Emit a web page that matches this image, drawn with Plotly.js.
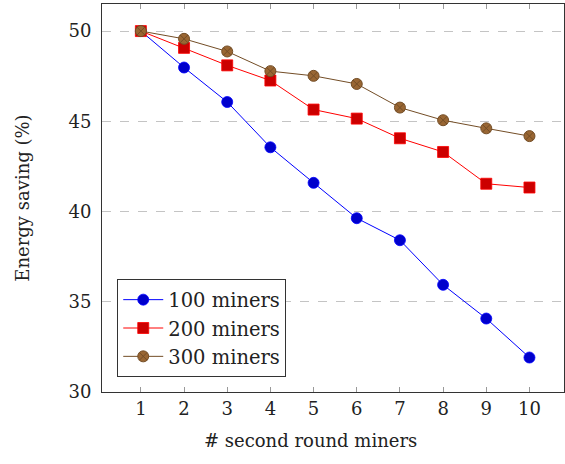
<!DOCTYPE html>
<html><head><meta charset="utf-8">
<script src="https://cdn.plot.ly/plotly-3.0.1.min.js"></script>
<style>html,body{margin:0;padding:0;background:#fff}#chart{width:565px;height:464px}</style>
</head><body><div id="chart"></div>
<script>
const xVals = [1,2,3,4,5,6,7,8,9,10];
const miners100 = [50, 47.98, 46.07, 43.56, 41.59, 39.63, 38.41, 35.94, 34.07, 31.91];
const miners200 = [50, 49.07, 48.10, 47.26, 45.65, 45.15, 44.06, 43.30, 41.54, 41.33];
const miners300 = [50, 49.57, 48.87, 47.78, 47.52, 47.07, 45.76, 45.06, 44.61, 44.18];
const seriesNames = ['100 miners','200 miners','300 miners'];
const yTicks = [30,35,40,45,50];
const xTitle = '# second round miners';
const yTitle = 'Energy saving (%)';

const font = 'DejaVu Serif, Liberation Serif, serif';
const traces = [
  {x:xVals, y:miners100, name:seriesNames[0], mode:'lines+markers',
   line:{color:'rgb(0,0,255)', width:1},
   marker:{symbol:'circle', size:11, color:'rgb(0,0,204)', line:{color:'rgb(0,0,255)', width:0.8}}},
  {x:xVals, y:miners200, name:seriesNames[1], mode:'lines+markers',
   line:{color:'rgb(255,0,0)', width:1},
   marker:{symbol:'square', size:11, color:'rgb(204,0,0)', line:{color:'rgb(255,0,0)', width:0.8}}},
  {x:xVals, y:miners300, name:seriesNames[2], mode:'lines+markers',
   line:{color:'rgb(115,77,38)', width:1},
   marker:{symbol:'circle-x', size:11, color:'rgb(153,102,51)', line:{color:'rgb(115,77,38)', width:1}}}
];
const layout = {
  width:565, height:464,
  margin:{l:102, r:1, t:4, b:72},
  paper_bgcolor:'#fff', plot_bgcolor:'#fff',
  font:{family:font, size:18, color:'#222'},
  showlegend:true,
  legend:{x:0.033, y:0.29, xanchor:'left', yanchor:'top',
    bgcolor:'#fff', bordercolor:'#333', borderwidth:1,
    font:{family:font, size:19.5}, tracegroupgap:0, itemwidth:40},
  xaxis:{range:[0.1,10.8], tickvals:xVals, ticktext:xVals.map(String),
    ticks:'inside', ticklen:5, tickcolor:'#999', showgrid:false, zeroline:false,
    showline:true, linecolor:'#333', linewidth:1, mirror:'allticks',
    tickfont:{family:font, size:18}},
  yaxis:{range:[30,51.5], tickvals:yTicks, ticktext:yTicks.map(String),
    ticks:'', showgrid:true, gridcolor:'#c4c4c4', griddash:'dash', gridwidth:1,
    zeroline:false, showline:true, linecolor:'#333', linewidth:1, mirror:true,
    ticklabelstandoff:6,
    tickfont:{family:font, size:18},
    title:{text:yTitle, font:{family:font, size:18}, standoff:34}},
  annotations:[{text:xTitle, xref:'paper', yref:'paper', x:0.452, y:-0.126,
    xanchor:'center', yanchor:'middle', showarrow:false, font:{family:font, size:18}}]
};
Plotly.newPlot('chart', traces, layout, {displayModeBar:false, staticPlot:true});
</script></body></html>
